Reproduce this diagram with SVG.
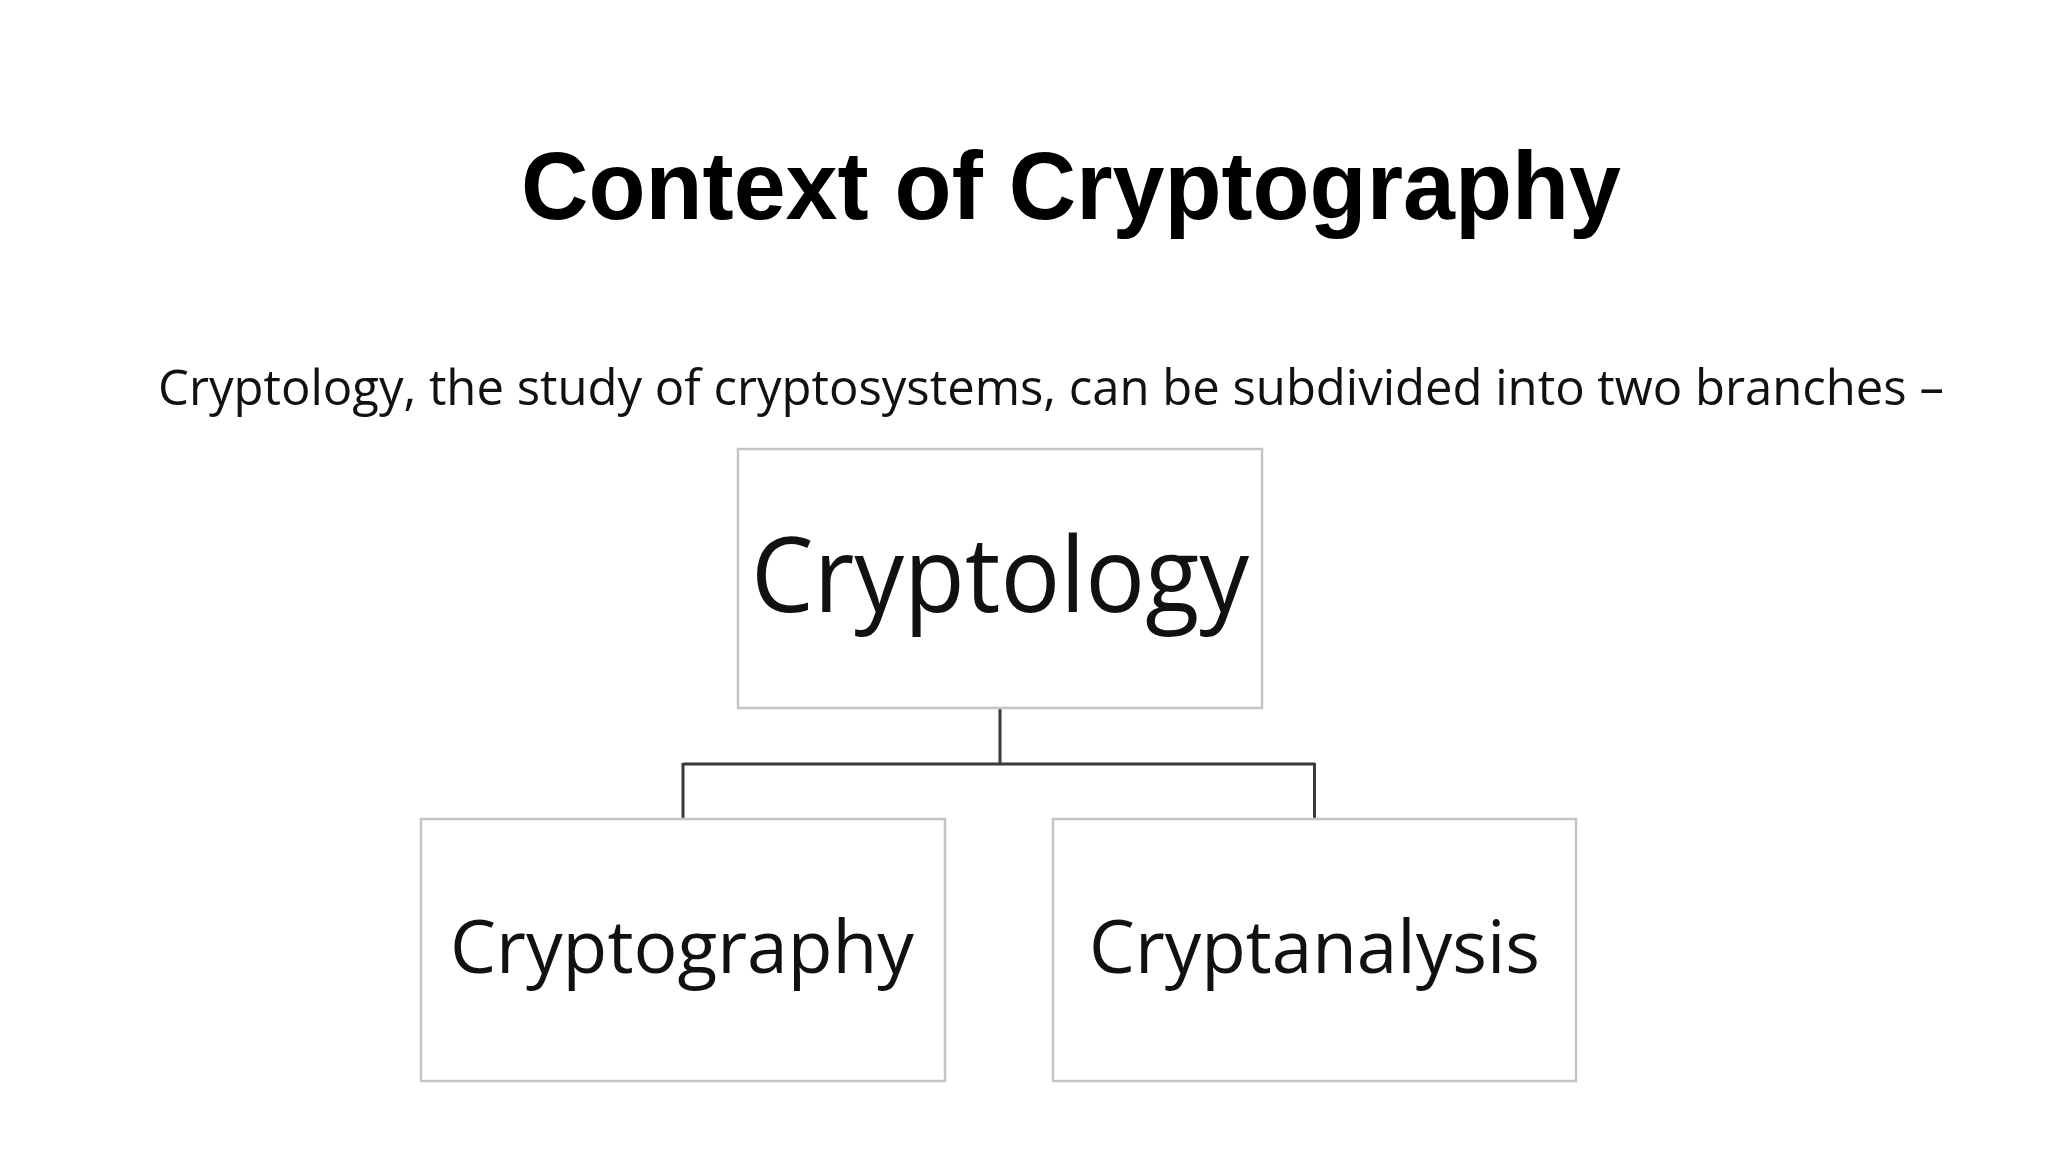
<svg xmlns="http://www.w3.org/2000/svg" width="2048" height="1152" viewBox="0 0 2048 1152">
<style>
.box{fill:#fff;stroke:#c4c4c4;stroke-width:2.5}
.lbl{font-family:"Open Sans","Noto Sans",sans-serif;fill:#111;text-anchor:middle}
.conn{fill:none;stroke:#3a3a3a;stroke-width:3}
</style>
<rect width="2048" height="1152" fill="#fff"/>
<text x="1071" y="219" font-family="Liberation Sans, Arial, sans-serif" font-weight="bold" font-size="96" text-anchor="middle" textLength="1100" lengthAdjust="spacingAndGlyphs" fill="#000">Context of Cryptography</text>
<text x="1051" y="405" font-family="Open Sans, Noto Sans, sans-serif" font-size="49" text-anchor="middle" fill="#111">Cryptology, the study of cryptosystems, can be subdivided into two branches –</text>
<g id="connectors">
<path class="conn" d="M1000 708 V764 M683 764 H1315 M683 763 V819 M1314.5 763 V819"/>
</g>
<g id="node-cryptology">
<rect class="box" x="738" y="449" width="524" height="259"/>
<text class="lbl" x="1000" y="612" font-size="105" textLength="498" lengthAdjust="spacingAndGlyphs">Cryptology</text>
</g>
<g id="node-cryptography">
<rect class="box" x="421" y="819" width="524" height="262"/>
<text class="lbl" x="682" y="973" font-size="74" textLength="464" lengthAdjust="spacingAndGlyphs">Cryptography</text>
</g>
<g id="node-cryptanalysis">
<rect class="box" x="1053" y="819" width="523" height="262"/>
<text class="lbl" x="1314.5" y="973" font-size="74" textLength="451" lengthAdjust="spacingAndGlyphs">Cryptanalysis</text>
</g>
</svg>
